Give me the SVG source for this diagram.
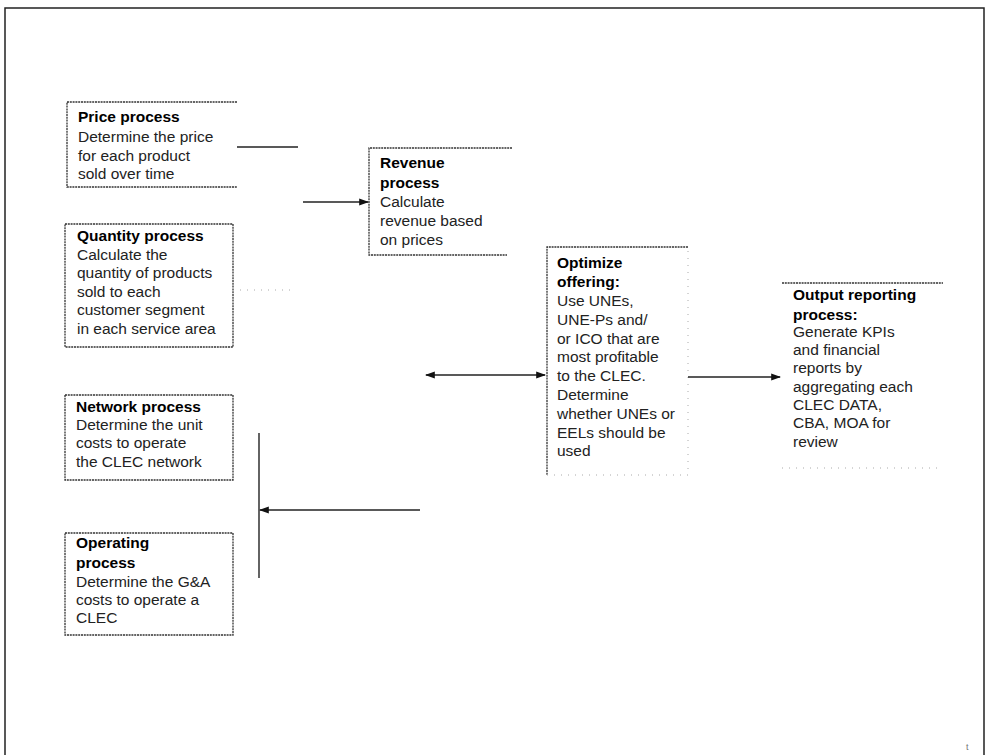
<svg xmlns="http://www.w3.org/2000/svg" width="989" height="755" viewBox="0 0 989 755">
<defs>
<style>
.frame{fill:none;stroke:#222;stroke-width:1.5}
.edge{fill:none;stroke:#333;stroke-width:1.3;stroke-dasharray:2 0.8}
.faint{fill:none;stroke:#aaa;stroke-width:1;stroke-dasharray:1 6}
.t{font-family:"Liberation Sans",Arial,sans-serif;font-size:15.5px;fill:#222}
.b{font-family:"Liberation Sans",Arial,sans-serif;font-size:15.5px;font-weight:bold;fill:#000}
.c{fill:none;stroke:#222;stroke-width:1.4}
</style>
<marker id="ah" viewBox="0 0 10 10" refX="9" refY="5" markerWidth="7" markerHeight="7" orient="auto-start-reverse">
<path d="M0,1.5 L10,5 L0,8.5 z" fill="#111"/>
</marker>
</defs>
<rect width="989" height="755" fill="#fff"/>
<path class="frame" d="M5,755 V8 H984 V755"/>

<g id="price">
<path class="edge" d="M237,102 H67 V187 H237"/>
<text class="b" x="78" y="122">Price process</text>
<text class="t" x="78" y="142">Determine the price</text>
<text class="t" x="78" y="161">for each product</text>
<text class="t" x="78" y="179">sold over time</text>
</g>

<g id="quantity">
<path class="edge" d="M65,224 H233 V347 H65 Z"/>
<text class="b" x="77" y="241">Quantity process</text>
<text class="t" x="77" y="260">Calculate the</text>
<text class="t" x="77" y="278">quantity of products</text>
<text class="t" x="77" y="297">sold to each</text>
<text class="t" x="77" y="315">customer segment</text>
<text class="t" x="77" y="334">in each service area</text>
</g>

<g id="network">
<path class="edge" d="M65,395 H233 V480 H65 Z"/>
<text class="b" x="76" y="412">Network process</text>
<text class="t" x="76" y="430">Determine the unit</text>
<text class="t" x="76" y="448">costs to operate</text>
<text class="t" x="76" y="467">the CLEC network</text>
</g>

<g id="operating">
<path class="edge" d="M65,533 H233 V635 H65 Z"/>
<text class="b" x="76" y="548">Operating</text>
<text class="b" x="76" y="568">process</text>
<text class="t" x="76" y="587">Determine the G&amp;A</text>
<text class="t" x="76" y="605">costs to operate a</text>
<text class="t" x="76" y="623">CLEC</text>
</g>

<g id="revenue">
<path class="edge" d="M512,148 H369 V255 H507"/>
<text class="b" x="380" y="168">Revenue</text>
<text class="b" x="380" y="188">process</text>
<text class="t" x="380" y="207">Calculate</text>
<text class="t" x="380" y="226">revenue based</text>
<text class="t" x="380" y="245">on prices</text>
</g>

<g id="optimize">
<path class="edge" d="M688,247 H547 V475"/>
<path class="faint" d="M547,475 H688 V247"/>
<text class="b" x="557" y="268">Optimize</text>
<text class="b" x="557" y="287">offering:</text>
<text class="t" x="557" y="306">Use UNEs,</text>
<text class="t" x="557" y="325">UNE-Ps and/</text>
<text class="t" x="557" y="344">or ICO that are</text>
<text class="t" x="557" y="362">most profitable</text>
<text class="t" x="557" y="381">to the CLEC.</text>
<text class="t" x="557" y="400">Determine</text>
<text class="t" x="557" y="419">whether UNEs or</text>
<text class="t" x="557" y="438">EELs should be</text>
<text class="t" x="557" y="456">used</text>
</g>

<g id="output">
<path class="edge" d="M782,283 H943"/>
<path class="faint" d="M782,468 H943"/>
<text class="b" x="793" y="300">Output reporting</text>
<text class="b" x="793" y="320">process:</text>
<text class="t" x="793" y="337">Generate KPIs</text>
<text class="t" x="793" y="355">and financial</text>
<text class="t" x="793" y="373">reports by</text>
<text class="t" x="793" y="392">aggregating each</text>
<text class="t" x="793" y="410">CLEC DATA,</text>
<text class="t" x="793" y="428">CBA, MOA for</text>
<text class="t" x="793" y="447">review</text>
</g>

<g id="connectors">
<path class="c" d="M237,147 H298"/>
<path class="faint" d="M240,290 H292"/>
<path class="c" d="M303,202 H368" marker-end="url(#ah)"/>
<path class="c" d="M259,433 V578"/>
<path class="c" d="M420,510 H260" marker-end="url(#ah)"/>
<path class="c" d="M426,375 H545" marker-start="url(#ah)" marker-end="url(#ah)"/>
<path class="c" d="M688,377 H780" marker-end="url(#ah)"/>
</g>

<text x="966" y="750" style="font-family:'Liberation Sans',sans-serif;font-size:9px;fill:#777">t</text>
</svg>
